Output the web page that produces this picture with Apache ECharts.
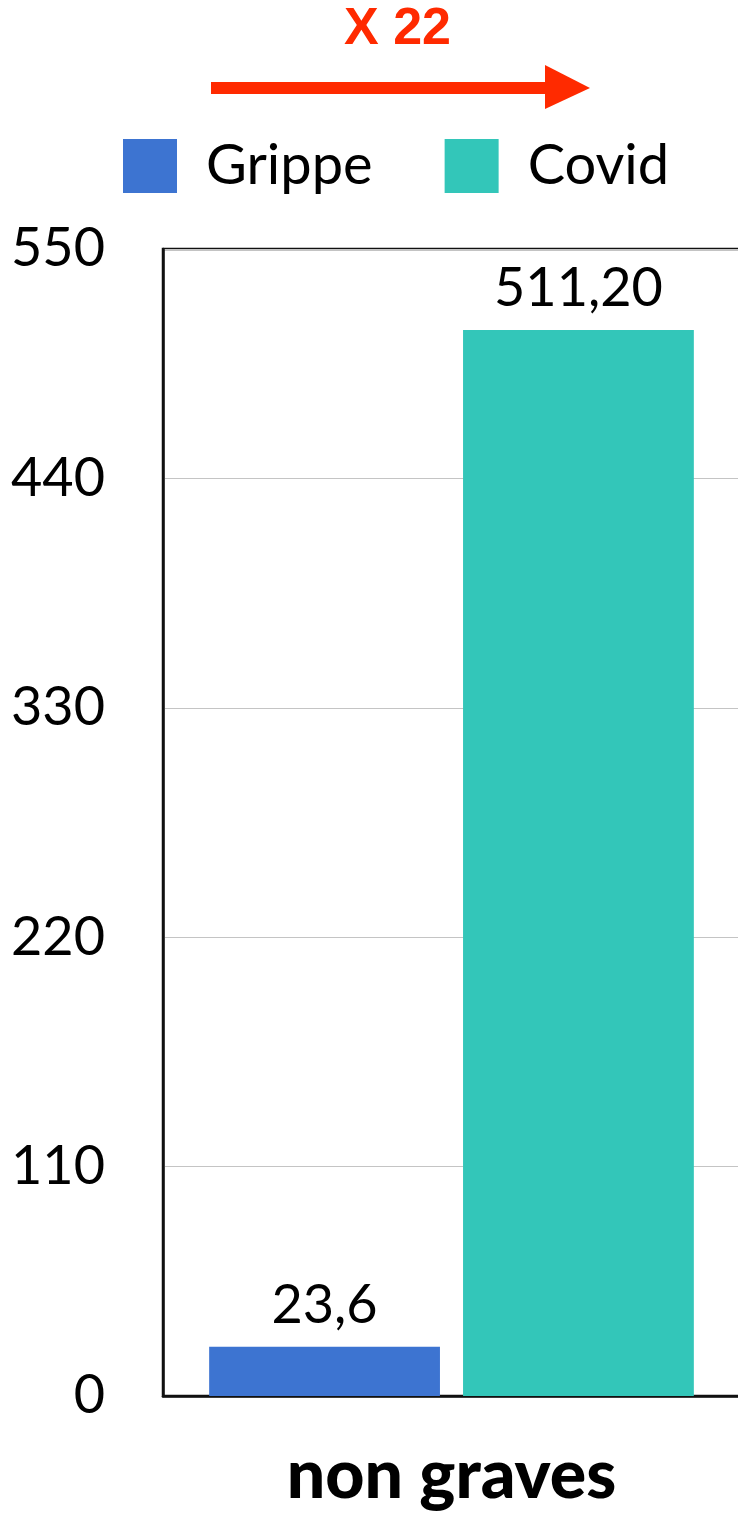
<!DOCTYPE html>
<html>
<head>
<meta charset="utf-8">
<script src="https://cdn.jsdelivr.net/npm/echarts@6/dist/echarts.min.js"></script>
<style>
    html, body { margin: 0; padding: 0; background: #fff; }
    #chart { width: 738px; height: 1515px; }
</style>
</head>
<body>
<div id="chart"></div>
<script>
// data
var categories = ["non graves"];
var grippeValues = [23.6];
var covidValues = [511.2];
var grippeLabels = ["23,6"];
var covidLabels = ["511,20"];
var yTicks = [0, 110, 220, 330, 440, 550];
var ratioText = "X 22";

var font = "Lato, 'Noto Sans', sans-serif";

var chart = echarts.init(document.getElementById("chart"));
chart.setOption({
    animation: false,
    backgroundColor: "#fff",
    legend: {
        left: 118,
        top: 133,
        itemWidth: 54,
        itemHeight: 54,
        itemGap: 72,
        icon: "rect",
        textStyle: {
            fontFamily: font,
            fontSize: 56,
            color: "#000",
            padding: [0, 0, 0, 24]
        },
        data: ["Grippe", "Covid"]
    },
    grid: {
        left: 163,
        width: 577,
        top: 249,
        bottom: 119,
        show: true,
        borderColor: "#111",
        borderWidth: 2.5,
        containLabel: false,
        outerBoundsMode: "none"
    },
    xAxis: {
        type: "category",
        data: categories,
        axisLine: { show: true, lineStyle: { color: "#111", width: 2.5 } },
        axisTick: { show: false },
        axisLabel: {
            margin: 46,
            fontFamily: font,
            fontWeight: 900,
            fontSize: 68,
            color: "#000"
        }
    },
    yAxis: {
        type: "value",
        min: yTicks[0],
        max: yTicks[yTicks.length - 1],
        interval: 110,
        axisLine: { show: true, lineStyle: { color: "#111", width: 2.5 } },
        axisTick: { show: false },
        axisLabel: {
            margin: 58,
            fontFamily: font,
            fontSize: 54,
            color: "#000"
        },
        splitLine: { lineStyle: { color: "#c4c4c4", width: 1 } }
    },
    series: [
        {
            name: "Grippe",
            type: "bar",
            data: grippeValues,
            barWidth: "40%",
            barGap: "10%",
            itemStyle: { color: "#3d74d1" },
            label: {
                show: true,
                position: "top",
                distance: 14,
                fontFamily: font,
                fontSize: 54,
                color: "#000",
                formatter: function (p) { return grippeLabels[p.dataIndex]; }
            }
        },
        {
            name: "Covid",
            type: "bar",
            data: covidValues,
            barWidth: "40%",
            itemStyle: { color: "#33c6b9" },
            label: {
                show: true,
                position: "top",
                distance: 14,
                fontFamily: font,
                fontSize: 54,
                color: "#000",
                formatter: function (p) { return covidLabels[p.dataIndex]; }
            }
        }
    ],
    graphic: [
        {
            type: "text",
            left: 344,
            top: 4,
            style: {
                text: ratioText,
                fontFamily: "'Liberation Sans', Arial, sans-serif",
                fontWeight: "bold",
                fontSize: 52,
                fill: "#ff2a00"
            }
        },
        {
            type: "rect",
            shape: { x: 211, y: 82, width: 336, height: 12 },
            style: { fill: "#ff2a00" }
        },
        {
            type: "polygon",
            shape: { points: [[545, 65], [590, 88], [545, 109]] },
            style: { fill: "#ff2a00" }
        }
    ]
});
</script>
</body>
</html>
